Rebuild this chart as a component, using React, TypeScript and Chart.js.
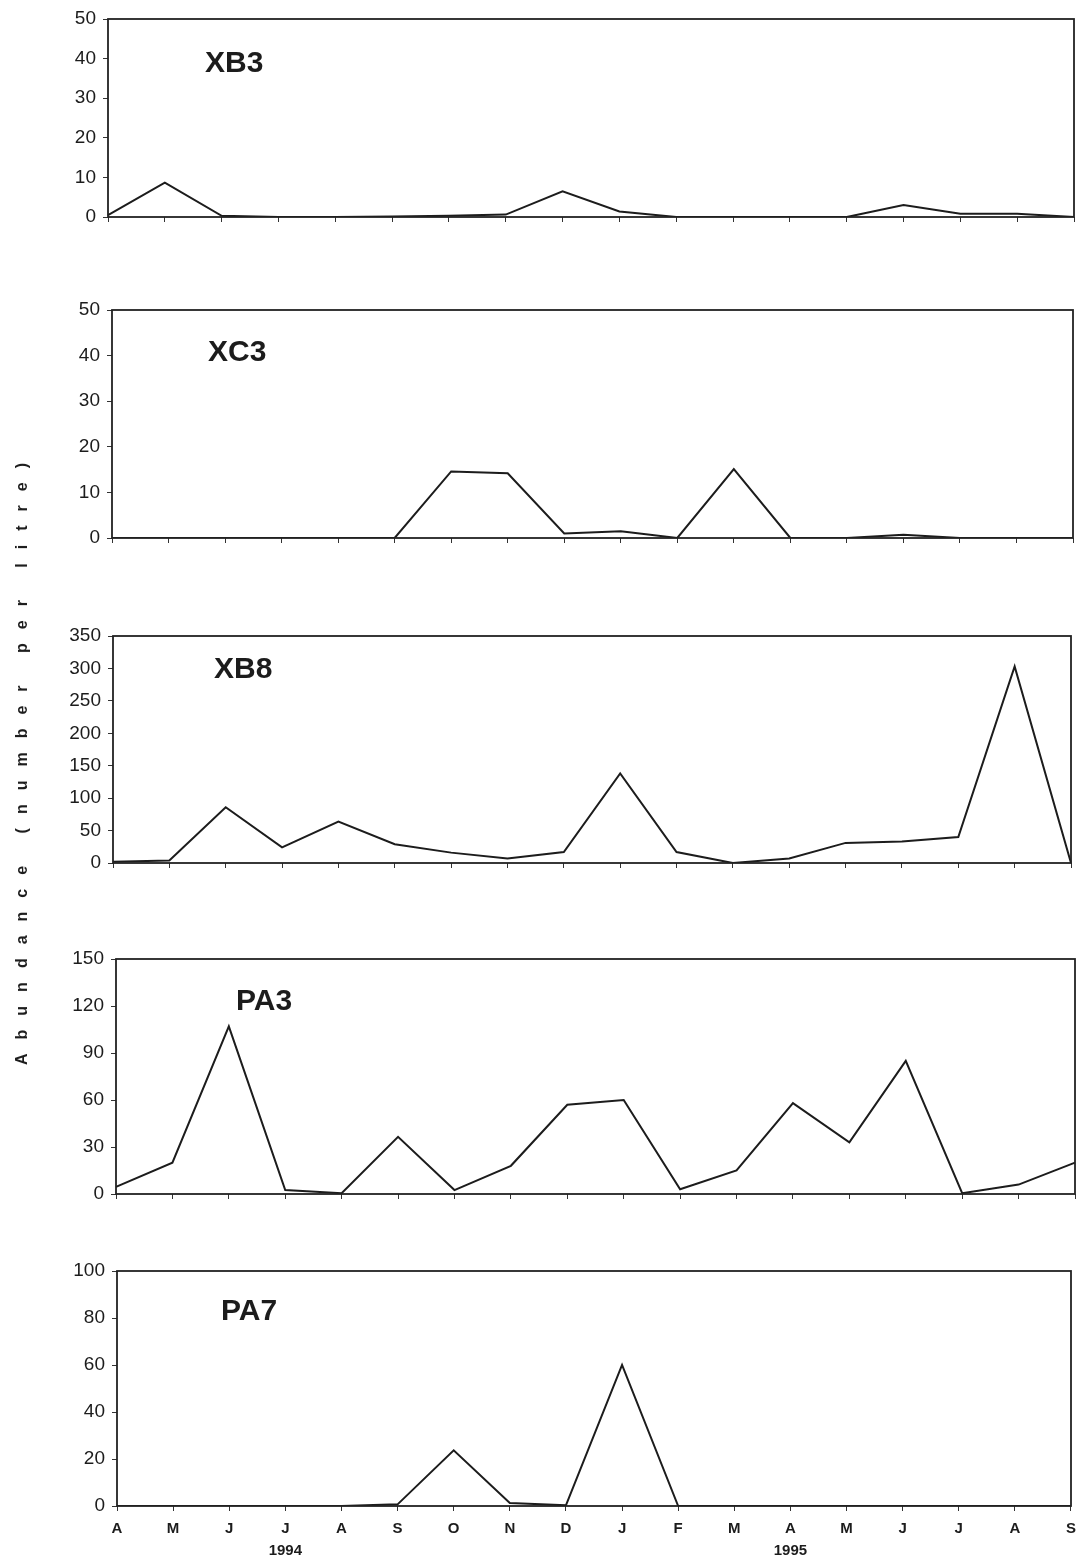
import React, { useEffect, useRef } from 'react';
import { Chart, registerables } from 'chart.js';

Chart.register(...registerables);

// ---- data ----
const MONTHS = ['A', 'M', 'J', 'J', 'A', 'S', 'O', 'N', 'D', 'J', 'F', 'M', 'A', 'M', 'J', 'J', 'A', 'S'];
const YEAR_LABELS = ['', '', '', '1994', '', '', '', '', '', '', '', '', '1995', '', '', '', '', ''];

const XB3 = [0.5, 8.7, 0.3, 0, 0, 0.1, 0.3, 0.6, 6.5, 1.4, 0, 0, 0, 0, 3, 0.8, 0.8, 0];
const XC3 = [0, 0, 0, 0, 0, 0, 14.6, 14.2, 1, 1.5, 0, 15.1, 0, 0, 0.7, 0, 0, 0];
const XB8 = [2, 4, 86, 24, 64, 29, 16, 7, 17, 138, 17, 0, 7, 31, 33, 40, 303, 0];
const PA3 = [4.5, 20, 107, 2.5, 0.5, 36.5, 2.5, 18, 57, 60, 3, 15, 58, 33, 85, 0.5, 6, 20];
const PA7 = [0, 0, 0, 0, 0, 0.7, 23.7, 1.3, 0.3, 60, 0, 0, 0, 0, 0, 0, 0, 0];

const NAMES = ['XB3', 'XC3', 'XB8', 'PA3', 'PA7'];
const SERIES = [XB3, XC3, XB8, PA3, PA7];
const Y_MAX = [50, 50, 350, 150, 100];
const Y_STEP = [10, 10, 50, 30, 20];

const Y_TITLE = 'Abundance (number per litre)';

// ---- layout (pixels on the page) ----
const W = 1083;
const H = 1561;
const LAYOUT = [
  { left: 108, right: 1074, top: 19, bottom: 217, lx: 205, ly: 64 },
  { left: 112, right: 1073, top: 310, bottom: 538, lx: 208, ly: 353 },
  { left: 113, right: 1071, top: 636, bottom: 863, lx: 214, ly: 670 },
  { left: 116, right: 1075, top: 959, bottom: 1194, lx: 236, ly: 1002 },
  { left: 117, right: 1074, top: 1271, bottom: 1506, lx: 221, ly: 1312 },
];

const FONT = '"Liberation Sans", Arial, Helvetica, sans-serif';
const INK = '#1c1c1c';

function Panel({ idx }: { idx: number }) {
  const ref = useRef<HTMLCanvasElement | null>(null);
  const L = LAYOUT[idx];
  const isLast = idx === LAYOUT.length - 1;
  const xH = isLast ? 56 : 10;

  useEffect(() => {
    if (!ref.current) return;
    const frame = {
      id: 'frame' + idx,
      afterDatasetsDraw(chart: any) {
        const { ctx, chartArea: a } = chart;
        ctx.save();
        ctx.strokeStyle = '#222';
        ctx.lineWidth = 1.8;
        ctx.strokeRect(a.left, a.top, a.right - a.left, a.bottom - a.top);
        ctx.font = `bold 30px ${FONT}`;
        ctx.fillStyle = INK;
        ctx.textBaseline = 'middle';
        ctx.textAlign = 'left';
        ctx.fillText(NAMES[idx], L.lx, L.ly);
        ctx.restore();
      },
    };
    const padding = { top: L.top, right: W - L.right, left: 0, bottom: H - L.bottom - xH };
    const chart = new Chart(ref.current, {
      type: 'line',
      data: {
        labels: MONTHS,
        datasets: [
          {
            data: SERIES[idx],
            borderColor: INK,
            borderWidth: 2,
            pointRadius: 0,
            tension: 0,
            fill: false,
          },
        ],
      },
      options: {
        animation: false,
        responsive: false,
        devicePixelRatio: 1,
        layout: { padding },
        plugins: { legend: { display: false }, tooltip: { enabled: false } },
        scales: {
          x: {
            offset: false,
            grid: { drawOnChartArea: false, drawTicks: true, tickLength: 5, color: '#333' },
            border: { display: false },
            ticks: {
              display: isLast,
              autoSkip: false,
              maxRotation: 0,
              padding: 7,
              color: INK,
              font: { family: FONT, size: 15, weight: 'bold', lineHeight: 22 / 15 },
              callback: (_v: any, i: number) => (YEAR_LABELS[i] ? [MONTHS[i], YEAR_LABELS[i]] : MONTHS[i]),
            },
            afterFit: (s: any) => {
              s.height = xH;
            },
          },
          y: {
            min: 0,
            max: Y_MAX[idx],
            grid: { drawOnChartArea: false, drawTicks: true, tickLength: 5, color: '#333' },
            border: { display: false },
            ticks: {
              stepSize: Y_STEP[idx],
              padding: 7,
              color: INK,
              font: { family: FONT, size: 19 },
            },
            afterFit: (s: any) => {
              s.width = L.left;
            },
          },
        },
      },
      plugins: [frame],
    } as any);

    // Nudge the layout padding so the plot area lands on the intended page box.
    for (let k = 0; k < 3; k++) {
      const a = chart.chartArea;
      const dTop = L.top - a.top;
      const dBottom = a.bottom - L.bottom;
      const dLeft = L.left - a.left;
      const dRight = a.right - L.right;
      if (Math.abs(dTop) < 0.5 && Math.abs(dBottom) < 0.5 && Math.abs(dLeft) < 0.5 && Math.abs(dRight) < 0.5) break;
      padding.top += dTop;
      padding.bottom += dBottom;
      padding.left = Math.max(0, padding.left + dLeft);
      padding.right += dRight;
      (chart.options as any).layout.padding = { ...padding };
      chart.update();
    }
    return () => chart.destroy();
  }, []);

  return (
    <canvas
      ref={ref}
      width={W}
      height={H}
      style={{ position: 'absolute', left: 0, top: 0, width: W, height: H }}
    />
  );
}

export default function App() {
  return (
    <div
      style={{
        position: 'absolute',
        left: 0,
        top: 0,
        width: W,
        height: H,
        background: '#fff',
        overflow: 'hidden',
      }}
    >
      {LAYOUT.map((_, i) => (
        <Panel key={i} idx={i} />
      ))}
      <div
        style={{
          position: 'absolute',
          left: 22,
          top: 757,
          transform: 'translate(-50%, -50%) rotate(-90deg)',
          whiteSpace: 'nowrap',
          fontFamily: FONT,
          fontWeight: 'bold',
          fontSize: 16,
          letterSpacing: '14px',
          color: INK,
          lineHeight: '18px',
        }}
      >
        {Y_TITLE}
      </div>
    </div>
  );
}
